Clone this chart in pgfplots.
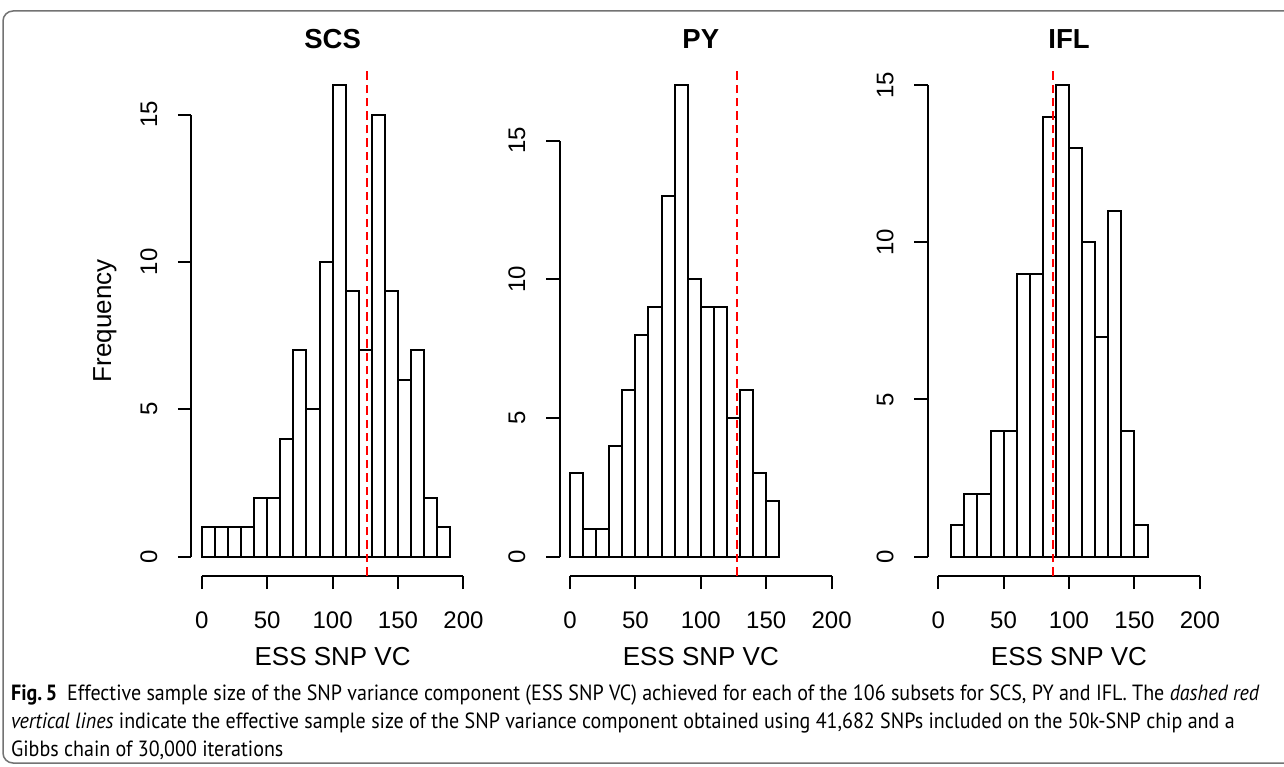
\documentclass[border=0pt]{standalone}
\usepackage{fontspec}
\setmainfont{Liberation Sans}
\newfontfamily\capfont[FakeStretch=0.91]{PT Sans}
\usepackage{pgfplots}
\pgfplotsset{compat=1.18}
\usepackage{pgfplotstable}

\pgfplotstableread{
x y
0 1
10 1
20 1
30 1
40 2
50 2
60 4
70 7
80 5
90 10
100 16
110 9
120 7
130 15
140 9
150 6
160 7
170 2
180 1
190 0
}\scs
\pgfplotstableread{
x y
0 3
10 1
20 1
30 4
40 6
50 8
60 9
70 13
80 17
90 10
100 9
110 9
120 5
130 6
140 3
150 2
160 0
}\py
\pgfplotstableread{
x y
10 1
20 2
30 2
40 4
50 4
60 9
70 9
80 14
90 15
100 13
110 10
120 7
130 11
140 4
150 1
160 0
}\ifl

\pgfplotsset{
  hist/.style={
    scale only axis, width=141.3pt, height=254.6pt,
    anchor=south west,
    xmin=-8, xmax=208,
    axis x line*=bottom, axis y line*=left,
    axis line style={draw=none},
    xtick={0,50,100,150,200}, ytick={0,5,10,15},
    tick align=outside, major tick length=6.75pt,
    every tick/.style={black, line width=1pt},
    tick label style={font=\fontsize{12}{14}\selectfont},
    /pgf/number format/assume math mode=true,
    xticklabel style={anchor=base, yshift=-19.5pt},
    yticklabel style={xshift=-10.4pt, rotate=90, anchor=base},
    title style={font=\bfseries\fontsize{13.75}{16}\selectfont, at={(0.5,1)}, anchor=base, yshift=2.65pt},
    xlabel={ESS SNP VC},
    xlabel style={font=\fontsize{13}{15}\selectfont, at={(0.5,0)}, anchor=base, yshift=-45pt},
    clip=false,
  },
  barsty/.style={ybar interval, draw=black, fill=white, line width=1pt},
  redsty/.style={color=red, line width=1pt, dash pattern=on 4.2pt off 2.5pt},
}

\begin{document}
\begin{tikzpicture}
\fill[white] (0,0) rectangle (642pt,383pt);
\begin{scope}
\clip (0,0) rectangle (642pt,383pt);
\draw[black!55, line width=0.75pt, rounded corners=5pt] (1.5pt,1.5pt) rectangle (650pt,377.5pt);
\end{scope}

\begin{axis}[hist, at={(95.65pt,95.25pt)}, ymin=-0.64, ymax=16.64, title={SCS},
  ylabel={Frequency}, ylabel style={font=\fontsize{13}{15}\selectfont, at={(-0.284,0.5)}, anchor=base}]
  \draw[line width=1pt] (axis cs:0,-0.64) -- (axis cs:200,-0.64);
  \draw[line width=1pt] (axis cs:-8,0) -- (axis cs:-8,15);
  \addplot[barsty] table[x=x,y=y] {\scs};
  \addplot[redsty] coordinates {(126.6,-0.64) (126.6,16.64)};
\end{axis}

\begin{axis}[hist, at={(279.75pt,95.25pt)}, ymin=-0.68, ymax=17.68, title={PY}]
  \draw[line width=1pt] (axis cs:0,-0.68) -- (axis cs:200,-0.68);
  \draw[line width=1pt] (axis cs:-8,0) -- (axis cs:-8,15);
  \addplot[barsty] table[x=x,y=y] {\py};
  \addplot[redsty] coordinates {(128,-0.68) (128,17.68)};
\end{axis}

\begin{axis}[hist, at={(463.85pt,95.25pt)}, ymin=-0.6, ymax=15.6, title={IFL}]
  \draw[line width=1pt] (axis cs:0,-0.6) -- (axis cs:200,-0.6);
  \draw[line width=1pt] (axis cs:-8,0) -- (axis cs:-8,15);
  \addplot[barsty] table[x=x,y=y] {\ifl};
  \addplot[redsty] coordinates {(87.5,-0.6) (87.5,15.6)};
\end{axis}

\begin{scope}[every node/.style={anchor=base west, inner sep=0pt, font=\capfont\fontsize{11}{13}\selectfont}]
\node at (5.35pt,33pt) {\textbf{Fig.\,5}\hspace{0.45em}Effective sample size of the SNP variance component (ESS SNP VC) achieved for each of the 106 subsets for SCS, PY and IFL. The \textit{dashed red}};
\node at (5.35pt,19pt) {\textit{vertical lines} indicate the effective sample size of the SNP variance component obtained using 41,682 SNPs included on the 50k-SNP chip and a};
\node at (5.35pt,5pt) {Gibbs chain of 30,000 iterations};
\end{scope}
\pgfresetboundingbox
\useasboundingbox (0,0) rectangle (642pt,383pt);
\end{tikzpicture}
\end{document}
